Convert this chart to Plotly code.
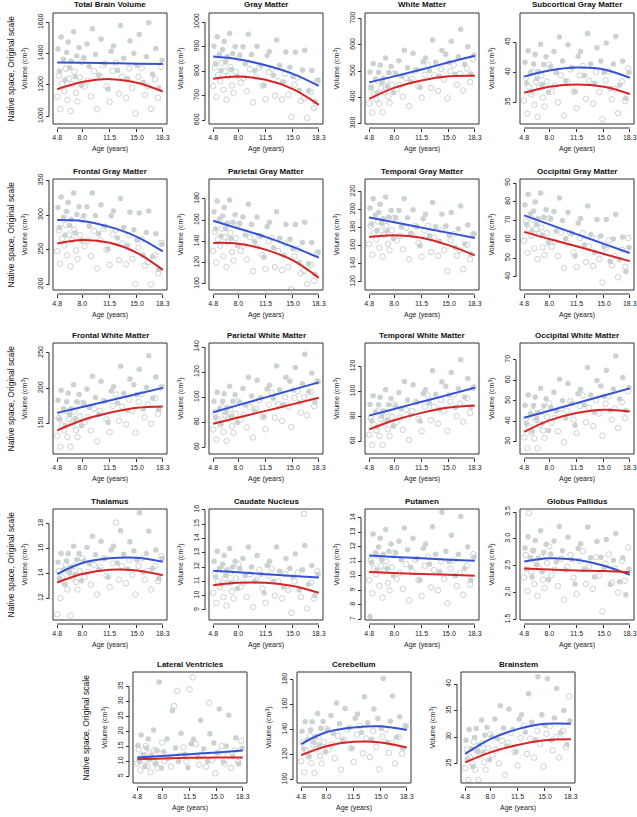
import plotly.graph_objects as go

# ages of the subjects (filled = blue group, open = red group) and fit knots
AGE_F = [4.9, 5.1, 5.3, 5.6, 5.8, 6.0, 6.2, 6.4, 6.6, 6.9, 7.1, 7.3, 7.6, 7.9, 8.2, 8.6, 8.9, 9.3, 9.7, 10.1,
         10.4, 10.9, 11.3, 11.7, 12.0, 12.5, 12.9, 13.3, 13.8, 14.1, 14.6, 15.0, 15.3, 15.8, 16.2, 16.5, 17.0, 17.4, 17.8, 18.2]
AGE_O = [4.8, 5.0, 5.2, 5.4, 5.7, 5.9, 6.1, 6.3, 6.5, 6.7, 7.0, 7.2, 7.4, 7.7, 8.0, 8.3, 8.7, 9.1, 9.5, 9.9,
         10.3, 10.7, 11.1, 11.5, 11.9, 12.3, 12.7, 13.1, 13.6, 14.0, 14.4, 14.8, 15.2, 15.6, 16.0, 16.4, 16.8, 17.3, 17.7, 18.1]
AGE_FIT = [4.8, 8.0, 11.5, 15.0, 18.3]
AGE_TICKS = [4.8, 8.0, 11.5, 15.0, 18.3]
AGE_TICKTEXT = ["4.8", "8.0", "11.5", "15.0", "18.3"]

TBV_F = [1430, 1287, 1507, 1364, 1232, 1408, 1474, 1309, 1353, 1540, 1253, 1385, 1440, 1198, 1374, 1461, 1318, 1560, 1395, 1263,
         1493, 1339, 1174, 1416, 1449, 1294, 1580, 1371, 1239, 1481, 1402, 1325, 1523, 1215, 1380, 1598, 1268, 1433, 1180, 1356]
TBV_O = [1125, 1260, 1044, 1206, 1161, 1303, 1105, 1240, 1033, 1204, 1284, 1149, 1095, 1248, 1347, 1189, 1225, 1126, 1288, 1045,
         1254, 1326, 1191, 1092, 1290, 1342, 1144, 1252, 1117, 1306, 1180, 1018, 1252, 1306, 1135, 1191, 1047, 1236, 1119, 1317]
TBV_BLUE = [1343, 1341, 1339, 1336, 1333]
TBV_RED = [1172, 1218, 1237, 1214, 1158]

GM_F = [902, 830, 940, 869, 803, 888, 921, 838, 860, 954, 806, 872, 900, 778, 866, 900, 829, 950, 868, 802,
        902, 825, 742, 864, 880, 784, 927, 823, 756, 878, 816, 778, 877, 722, 805, 885, 720, 803, 676, 764]
GM_O = [740, 815, 695, 785, 760, 834, 724, 799, 684, 779, 817, 742, 712, 797, 852, 753, 773, 718, 808, 673,
        776, 816, 741, 686, 796, 810, 700, 760, 685, 790, 704, 614, 744, 774, 679, 690, 610, 715, 650, 760]
GM_BLUE = [860, 849, 824, 789, 740]
GM_RED = [769, 778, 765, 727, 663]

WM_F = [497, 438, 529, 470, 416, 496, 523, 455, 473, 550, 441, 495, 518, 418, 491, 540, 481, 580, 513, 459,
        568, 505, 437, 537, 550, 502, 619, 534, 480, 579, 564, 533, 614, 487, 555, 660, 525, 593, 489, 561]
WM_O = [377, 437, 341, 413, 393, 463, 375, 435, 343, 419, 463, 403, 379, 447, 491, 430, 446, 402, 474, 366,
        470, 502, 442, 398, 486, 524, 436, 484, 424, 508, 468, 396, 500, 524, 448, 490, 426, 510, 458, 546]
WM_BLUE = [457, 480, 506, 534, 559]
WM_RED = [394, 436, 464, 480, 482]

SCG_F = [41.7, 38.2, 43.6, 40.0, 36.8, 41.4, 43.0, 39.0, 40.1, 44.7, 38.0, 41.3, 42.6, 36.7, 41.0, 43.5, 40.0, 45.9, 41.9, 38.6,
         44.6, 40.8, 36.8, 42.7, 43.5, 39.5, 46.5, 41.4, 38.2, 44.1, 41.9, 40.0, 44.9, 37.3, 41.4, 46.0, 37.9, 41.9, 35.7, 40.0]
SCG_O = [35.3, 39.1, 33.1, 37.6, 36.3, 40.1, 34.6, 38.4, 32.6, 37.4, 39.5, 35.8, 34.3, 38.5, 41.3, 36.8, 37.8, 35.0, 39.5, 32.8,
         38.5, 40.5, 36.8, 34.0, 39.5, 41.1, 35.6, 38.6, 34.8, 40.1, 36.7, 32.2, 38.7, 40.2, 35.5, 37.2, 33.2, 38.5, 35.2, 40.7]
SCG_BLUE = [39.3, 40.3, 40.8, 40.5, 39.1]
SCG_RED = [36.6, 37.6, 38.0, 37.6, 36.4]

FGM_F = [311, 282, 326, 297, 271, 305, 318, 285, 294, 332, 274, 301, 312, 263, 299, 312, 284, 332, 299, 273,
         315, 284, 251, 299, 306, 267, 324, 282, 256, 304, 279, 264, 303, 242, 275, 306, 240, 273, 222, 258]
FGM_O = [248, 278, 230, 266, 256, 286, 242, 272, 226, 264, 279, 249, 237, 271, 293, 255, 263, 241, 277, 223,
         264, 280, 250, 228, 272, 279, 235, 259, 229, 271, 237, 201, 253, 265, 227, 232, 200, 242, 216, 260]
FGM_BLUE = [293, 291.5, 283, 268.7, 247.6]
FGM_RED = [259, 264, 260, 245.5, 221]

PGM_F = [168, 152, 178, 161, 145, 164, 172, 152, 157, 179, 143, 158, 165, 136, 157, 163, 146, 175, 156, 140,
         163, 145, 125, 154, 158, 134, 168, 143, 127, 156, 142, 133, 156, 120, 139, 158, 119, 139, 109, 130]
PGM_O = [131, 149, 120, 142, 136, 152, 126, 144, 116, 139, 148, 130, 122, 143, 156, 131, 136, 123, 144, 112,
         135, 145, 127, 114, 140, 143, 116, 131, 113, 138, 116, 95, 126, 133, 110, 112, 100, 118, 103, 129]
PGM_BLUE = [159.4, 152.2, 144.3, 134.8, 124.7]
PGM_RED = [138.6, 137.9, 132.3, 122.1, 105.7]

TGM_F = [202, 184, 212, 194, 177, 197, 206, 185, 190, 214, 176, 192, 199, 168, 191, 199, 181, 212, 191, 174,
         200, 181, 160, 190, 195, 171, 208, 181, 165, 195, 182, 172, 197, 158, 179, 204, 162, 183, 151, 173]
TGM_O = [162, 182, 150, 174, 167, 187, 158, 177, 148, 172, 182, 162, 155, 177, 191, 166, 171, 156, 180, 145,
         172, 182, 163, 148, 177, 182, 153, 169, 149, 177, 155, 132, 166, 173, 149, 155, 134, 161, 145, 173]
TGM_BLUE = [191.4, 186.0, 180.1, 174.3, 168.7]
TGM_RED = [169.8, 171.7, 169.0, 160.5, 149.4]

OGM_F = [78.5, 68.1, 84.1, 73.7, 64.1, 75.2, 80.0, 68.0, 71.2, 84.8, 62.2, 71.8, 75.8, 58.2, 71.0, 74.9, 64.5, 82.1, 70.1, 60.5,
         74.3, 63.1, 51.1, 68.7, 71.1, 57.0, 77.8, 62.6, 53.0, 70.6, 61.8, 56.2, 70.6, 48.2, 60.2, 73.3, 49.3, 61.3, 42.9, 55.7]
OGM_O = [59.2, 69.7, 52.9, 65.5, 62.0, 70.5, 55.1, 65.6, 49.5, 62.8, 66.3, 55.8, 51.6, 63.5, 71.2, 56.0, 58.8, 51.1, 63.7, 44.8,
         57.9, 63.5, 53.0, 45.3, 60.7, 63.3, 47.9, 56.3, 45.8, 60.5, 49.6, 37.0, 55.2, 59.4, 46.1, 51.0, 39.8, 54.5, 45.4, 60.8]
OGM_BLUE = [72.8, 68.0, 62.8, 57.6, 52.7]
OGM_RED = [64.0, 60.2, 56.3, 52.2, 48.4]

FWM_F = [183, 156, 197, 171, 147, 181, 193, 163, 171, 205, 157, 181, 191, 147, 179, 199, 173, 217, 187, 163,
         210, 182, 152, 196, 202, 179, 231, 193, 169, 213, 205, 191, 227, 171, 201, 246, 186, 216, 170, 202]
FWM_O = [133, 158, 117, 148, 140, 168, 131, 156, 117, 150, 167, 141, 131, 160, 179, 152, 159, 140, 171, 125,
         168, 182, 156, 138, 175, 191, 154, 174, 149, 184, 168, 137, 181, 192, 159, 177, 150, 186, 164, 201]
FWM_BLUE = [165.2, 173.6, 182.7, 191.9, 200.5]
FWM_RED = [140.5, 154.8, 165.2, 172.4, 174.3]

PWM_F = [96.8, 83.8, 103.8, 90.8, 78.8, 96.7, 102.7, 87.7, 91.7, 108.7, 84.8, 96.8, 101.8, 79.8, 95.8, 106.8, 93.8, 115.8, 100.8, 88.8,
         113.4, 99.4, 84.4, 106.4, 109.4, 98.9, 124.9, 105.9, 93.9, 115.9, 112.6, 105.6, 123.6, 95.6, 110.6, 134.2, 104.2, 119.2, 96.2, 112.2]
PWM_O = [74.2, 87.7, 66.1, 82.3, 77.8, 92.0, 72.2, 85.7, 65.0, 82.1, 90.3, 76.8, 71.4, 86.7, 96.6, 82.1, 85.7, 75.8, 92.0, 67.7,
         90.5, 97.7, 84.2, 74.3, 94.1, 103.5, 83.7, 94.5, 81.0, 99.9, 92.3, 76.1, 99.5, 104.9, 87.8, 99.9, 85.5, 104.4, 92.7, 112.5]
PWM_BLUE = [87.9, 93.6, 99.8, 106.0, 111.8]
PWM_RED = [78.8, 83.7, 89.0, 94.4, 99.5]

TWM_F = [89.5, 76.5, 96.5, 83.5, 71.5, 89.3, 95.3, 80.3, 84.3, 101.3, 77.3, 89.3, 94.3, 72.3, 88.3, 99.1, 86.1, 108.1, 93.1, 81.1,
         105.4, 91.4, 76.4, 98.4, 101.4, 90.7, 116.7, 97.7, 85.7, 107.7, 104.2, 97.2, 115.2, 87.2, 102.2, 125.5, 95.5, 110.5, 87.5, 103.5]
TWM_O = [65.4, 78.9, 57.3, 73.5, 69.0, 84.2, 64.4, 77.9, 57.2, 74.3, 83.3, 69.8, 64.4, 79.7, 89.6, 75.6, 79.2, 69.3, 85.5, 61.2,
         84.4, 91.6, 78.1, 68.2, 88.0, 96.8, 77.0, 87.8, 74.3, 93.2, 84.7, 68.5, 91.9, 97.3, 80.2, 90.2, 75.8, 94.7, 83.0, 102.8]
TWM_BLUE = [80.7, 86.0, 91.8, 97.5, 103.0]
TWM_RED = [69.7, 77.0, 82.9, 87.2, 88.8]

OWM_F = [47.9, 38.8, 52.8, 43.7, 35.3, 47.7, 51.9, 41.4, 44.2, 56.1, 39.1, 47.5, 51.0, 35.6, 46.8, 54.2, 45.1, 60.5, 50.0, 41.6,
         58.4, 48.6, 38.1, 53.5, 55.6, 48.0, 66.2, 52.9, 44.5, 59.9, 57.2, 52.3, 64.9, 45.3, 55.8, 71.9, 50.9, 61.4, 45.3, 56.5]
OWM_O = [32.2, 41.2, 26.8, 37.6, 34.6, 44.9, 31.7, 40.7, 26.9, 38.3, 44.6, 35.6, 32.0, 42.2, 48.8, 39.4, 41.8, 35.2, 46.0, 29.8,
         45.1, 49.9, 40.9, 34.3, 47.5, 52.7, 39.5, 46.7, 37.7, 50.3, 43.8, 33.0, 48.6, 52.2, 40.8, 46.3, 36.7, 49.3, 41.5, 54.7]
OWM_BLUE = [41.8, 45.2, 48.9, 52.6, 56.1]
OWM_RED = [34.9, 40.5, 44.1, 45.7, 44.8]

THA_F = [14.9, 13.6, 15.6, 14.3, 13.1, 15.0, 15.6, 14.1, 14.5, 16.2, 13.9, 15.1, 15.6, 13.4, 15.0, 16.1, 14.8, 17.0, 15.5, 14.3,
         16.6, 15.2, 13.7, 15.9, 16.2, 14.85, 17.45, 15.55, 14.35, 16.55, 15.8, 15.1, 18.9, 14.1, 15.6, 17.4, 14.4, 15.9, 13.6, 15.2]
THA_O = [10.7, 14.2, 12.0, 13.7, 13.2, 14.7, 12.7, 14.1, 10.6, 13.7, 14.6, 13.3, 12.7, 14.2, 15.2, 13.7, 14.1, 13.1, 14.7, 12.3,
         14.5, 15.2, 13.8, 12.9, 14.8, 18.1, 13.5, 14.6, 13.2, 15.1, 13.9, 12.3, 14.6, 15.2, 13.5, 14.2, 12.7, 14.6, 13.4, 15.4]
THA_BLUE = [13.95, 14.84, 15.22, 15.27, 14.95]
THA_RED = [13.27, 13.95, 14.3, 14.24, 13.86]

CAU_F = [12.4, 11.3, 13.1, 11.9, 10.8, 12.2, 12.8, 11.4, 11.8, 13.3, 10.9, 12.0, 12.4, 10.5, 11.9, 12.6, 11.4, 13.4, 12.0, 11.0,
         12.8, 11.5, 10.2, 12.1, 12.4, 11.0, 13.4, 11.7, 10.6, 12.6, 11.9, 11.3, 12.9, 10.4, 11.8, 13.5, 10.8, 12.1, 10.0, 11.5]
CAU_O = [10.2, 11.5, 9.5, 11.0, 10.6, 11.8, 9.9, 11.2, 9.3, 10.9, 11.6, 10.3, 9.8, 11.2, 12.2, 10.6, 10.9, 9.9, 11.5, 9.2,
         11.1, 11.8, 10.5, 9.5, 11.4, 11.9, 10.0, 11.0, 9.8, 11.5, 10.4, 8.8, 11.0, 11.6, 9.9, 15.7, 9.1, 10.9, 9.8, 11.7]
CAU_BLUE = [11.74, 11.63, 11.50, 11.38, 11.26]
CAU_RED = [10.72, 10.9, 10.9, 10.67, 10.2]

PUT_F = [7.2, 10.9, 12.9, 11.6, 10.4, 12.0, 12.6, 11.1, 11.5, 13.2, 10.5, 11.7, 12.2, 10.0, 11.6, 12.4, 11.1, 13.3, 11.8, 10.6,
         12.6, 11.2, 9.7, 11.9, 12.2, 10.8, 13.4, 11.5, 10.3, 14.4, 11.7, 11.0, 12.8, 10.0, 11.5, 14.1, 10.5, 12.0, 9.7, 11.3]
PUT_O = [9.7, 11.1, 8.8, 10.5, 10.1, 11.4, 9.3, 10.7, 8.5, 10.3, 11.0, 9.5, 9.0, 10.6, 11.6, 9.8, 10.2, 9.1, 10.8, 8.3,
         10.3, 11.1, 9.7, 8.6, 10.7, 11.3, 9.2, 10.4, 9.0, 11.0, 9.8, 8.1, 10.5, 11.1, 9.3, 10.2, 8.7, 10.7, 9.4, 11.5]
PUT_BLUE = [11.4, 11.31, 11.22, 11.12, 11.04]
PUT_RED = [10.26, 10.2, 10.13, 10.07, 10.0]

GP_F = [2.83, 2.44, 3.04, 2.65, 2.29, 2.79, 2.97, 2.52, 2.64, 3.15, 2.39, 2.75, 2.90, 2.24, 2.72, 2.96, 2.57, 3.23, 2.78, 2.42,
        3.03, 2.61, 2.16, 2.82, 2.91, 2.44, 3.22, 2.65, 2.29, 2.95, 2.66, 2.45, 2.99, 2.15, 2.60, 3.10, 2.20, 2.65, 1.96, 2.44]
GP_O = [2.28, 2.70, 2.03, 3.48, 2.39, 2.78, 2.16, 2.58, 1.94, 2.47, 2.66, 2.24, 2.08, 2.55, 2.86, 2.32, 2.43, 2.12, 2.63, 1.87,
        2.48, 2.70, 2.28, 1.97, 2.59, 2.77, 2.16, 2.49, 2.07, 2.66, 2.32, 1.65, 2.54, 2.71, 2.18, 2.45, 2.00, 2.59, 2.22, 2.84]
GP_BLUE = [2.58, 2.64, 2.61, 2.50, 2.33]
GP_RED = [2.45, 2.43, 2.41, 2.40, 2.38]

LV_F = [15.3, 9.8, 18.8, 12.3, 8.3, 14.5, 17.5, 10.6, 12.0, 20.5, 9.3, 13.7, 36.5, 7.8, 13.2, 17.5, 11.4, 27.0, 14.5, 9.9,
        19.4, 12.4, 7.9, 15.9, 17.4, 11.5, 23.7, 14.2, 10.0, 19.2, 16.1, 12.8, 27.5, 9.8, 15.1, 25.4, 11.6, 17.9, 9.2, 14.4]
LV_O = [9.3, 14.0, 7.0, 11.9, 10.3, 15.1, 8.4, 12.7, 6.4, 11.3, 13.8, 9.3, 7.8, 12.4, 16.3, 10.1, 11.1, 8.3, 28.5, 33.5,
        11.9, 14.7, 9.9, 34.0, 38.0, 15.8, 8.9, 12.3, 8.2, 29.5, 10.4, 6.0, 13.0, 15.1, 9.2, 12.0, 7.8, 13.7, 9.8, 16.9]
LV_BLUE = [11.26, 11.8, 12.4, 13.0, 13.6]
LV_RED = [10.7, 11.0, 11.2, 11.3, 11.26]

CER_F = [138.8, 124.5, 146.5, 132.2, 119.0, 139.8, 146.4, 129.9, 134.3, 153.0, 127.9, 141.1, 146.6, 122.4, 140.0, 151.4, 137.1, 161.3, 144.8, 131.6,
         156.9, 141.5, 125.0, 149.2, 152.5, 137.8, 166.4, 145.5, 132.3, 156.5, 148.9, 141.2, 181.0, 130.2, 146.7, 166.9, 133.9, 150.4, 125.1, 142.7]
CER_O = [114.7, 129.7, 105.7, 123.7, 118.7, 135.2, 113.2, 128.2, 105.2, 124.2, 133.9, 118.9, 112.9, 129.9, 140.9, 124.1, 128.1, 117.1, 135.1, 108.1,
         132.1, 140.1, 125.1, 114.1, 136.1, 143.0, 121.0, 133.0, 118.0, 139.0, 126.3, 108.3, 134.3, 140.3, 121.3, 128.9, 112.9, 133.9, 120.9, 142.9]
CER_BLUE = [128.5, 137.9, 141.7, 142.7, 139.7]
CER_RED = [119.6, 126.8, 130.3, 129.8, 125.8]

BST_F = [29.4, 25.8, 31.4, 27.8, 24.4, 29.9, 31.6, 27.4, 28.5, 33.2, 27.1, 30.4, 31.8, 25.7, 30.1, 33.4, 29.7, 35.9, 31.7, 28.3,
         35.3, 31.4, 27.2, 33.4, 34.2, 30.9, 38.2, 32.8, 29.5, 41.4, 34.2, 32.2, 41.0, 29.4, 33.6, 39.2, 30.8, 35.0, 28.6, 33.1]
BST_O = [24.1, 27.7, 21.9, 26.2, 25.0, 29.1, 23.8, 27.4, 21.9, 26.4, 28.8, 25.2, 23.8, 27.9, 30.5, 26.6, 27.6, 25.0, 29.3, 22.8,
         28.9, 30.8, 27.2, 24.6, 29.8, 32.1, 26.8, 29.7, 26.1, 31.2, 28.7, 24.4, 30.6, 32.0, 27.5, 30.0, 26.1, 31.2, 28.1, 37.7]
BST_BLUE = [26.8, 29.6, 31.5, 32.5, 32.5]
BST_RED = [25.2, 27.1, 28.5, 29.4, 29.6]

# title, filled, open, blue fit, red fit, y range, y ticks
PANELS = [
    ("Total Brain Volume", TBV_F, TBV_O, TBV_BLUE, TBV_RED, [950, 1660], [1000, 1200, 1400, 1600]),
    ("Gray Matter", GM_F, GM_O, GM_BLUE, GM_RED, [585, 1037], [600, 700, 800, 900, 1000]),
    ("White Matter", WM_F, WM_O, WM_BLUE, WM_RED, [298, 722], [300, 400, 500, 600, 700]),
    ("Subcortical Gray Matter", SCG_F, SCG_O, SCG_BLUE, SCG_RED, [31.4, 49.9], [35, 40, 45]),
    ("Frontal Gray Matter", FGM_F, FGM_O, FGM_BLUE, FGM_RED, [192, 352], [200, 250, 300, 350]),
    ("Parietal Gray Matter", PGM_F, PGM_O, PGM_BLUE, PGM_RED, [94.3, 198.7], [100, 120, 140, 160, 180]),
    ("Temporal Gray Matter", TGM_F, TGM_O, TGM_BLUE, TGM_RED, [111, 234], [120, 140, 160, 180, 200, 220]),
    ("Occipital Gray Matter", OGM_F, OGM_O, OGM_BLUE, OGM_RED, [33, 92.2], [40, 50, 60, 70, 80, 90]),
    ("Frontal White Matter", FWM_F, FWM_O, FWM_BLUE, FWM_RED, [107, 264], [150, 200, 250]),
    ("Parietal White Matter", PWM_F, PWM_O, PWM_BLUE, PWM_RED, [54.6, 143.2], [60, 80, 100, 120, 140]),
    ("Temporal White Matter", TWM_F, TWM_O, TWM_BLUE, TWM_RED, [50, 138.8], [60, 80, 100, 120]),
    ("Occipital White Matter", OWM_F, OWM_O, OWM_BLUE, OWM_RED, [24.1, 78.2], [30, 40, 50, 60, 70]),
    ("Thalamus", THA_F, THA_O, THA_BLUE, THA_RED, [10.24, 19.2], [12, 14, 16, 18]),
    ("Caudate Nucleus", CAU_F, CAU_O, CAU_BLUE, CAU_RED, [8.3, 16.05], [9, 10, 11, 12, 13, 14, 15, 16]),
    ("Putamen", PUT_F, PUT_O, PUT_BLUE, PUT_RED, [6.95, 14.62], [7, 8, 9, 10, 11, 12, 13, 14]),
    ("Globus Pallidus", GP_F, GP_O, GP_BLUE, GP_RED, [1.49, 3.556], [1.5, 2.0, 2.5, 3.0, 3.5]),
    ("Lateral Ventricles", LV_F, LV_O, LV_BLUE, LV_RED, [2.8, 39.8], [5, 10, 15, 20, 25, 30, 35]),
    ("Cerebellum", CER_F, CER_O, CER_BLUE, CER_RED, [97.3, 186.2], [100, 120, 140, 160, 180]),
    ("Brainstem", BST_F, BST_O, BST_BLUE, BST_RED, [21.3, 42.3], [25, 30, 35, 40]),
]

W, H = 637, 817
BOX_W, BOX_H = 114, 111
FONT = "Liberation Sans, Arial, sans-serif"
PT = "#cad3d1"
BLUE = "#3552d6"
RED = "#d72526"
INK = "#333333"

# pixel position (left, top) of each plot box
CELLS = [(l, t) for t in [13, 179, 343, 509] for l in [53, 209, 365, 520]]
CELLS += [(133, 672), (297, 672), (461, 672)]

fig = go.Figure()
annotations = []
shapes = []


def note(text, x, y, size, angle=0, color="#222"):
    annotations.append(dict(text=text, xref="paper", yref="paper", x=x / W, y=1 - y / H,
                            xanchor="center", yanchor="middle", textangle=angle, showarrow=False,
                            font=dict(size=size, color=color, family=FONT)))


for i, (title, filled, hollow, blue, red, yr, yt) in enumerate(PANELS):
    n = i + 1
    xa = "x" if n == 1 else "x%d" % n
    ya = "y" if n == 1 else "y%d" % n
    left, top = CELLS[i]
    bottom = top + BOX_H

    fig.add_trace(go.Scatter(x=AGE_F, y=filled, mode="markers", xaxis=xa, yaxis=ya,
                             marker=dict(size=5.5, color=PT), hoverinfo="skip", showlegend=False))
    fig.add_trace(go.Scatter(x=AGE_O, y=hollow, mode="markers", xaxis=xa, yaxis=ya,
                             marker=dict(size=5.5, color=PT, symbol="circle-open", line=dict(width=1, color=PT)),
                             hoverinfo="skip", showlegend=False))
    for fit, col in [(blue, BLUE), (red, RED)]:
        fig.add_trace(go.Scatter(x=AGE_FIT, y=fit, mode="lines", xaxis=xa, yaxis=ya,
                                 line=dict(color=col, width=2, shape="spline", smoothing=1.0),
                                 hoverinfo="skip", showlegend=False))

    ytext = ["%.1f" % v for v in yt] if n == 16 else [str(v) for v in yt]
    fig.layout["xaxis" + ("" if n == 1 else str(n))] = dict(
        domain=[left / W, (left + BOX_W) / W], range=[4.26, 18.84],
        anchor="free", position=1 - (bottom + 4) / H, automargin=False,
        tickvals=AGE_TICKS, ticktext=AGE_TICKTEXT, ticks="outside", ticklen=3,
        tickcolor=INK, tickwidth=1, showgrid=False, zeroline=False, showline=False,
        tickfont=dict(size=7, color="#222", family=FONT),
    )
    fig.layout["yaxis" + ("" if n == 1 else str(n))] = dict(
        domain=[1 - bottom / H, 1 - top / H], range=yr,
        anchor="free", position=(left - 4) / W, automargin=False,
        tickvals=yt, ticktext=ytext, ticks="outside", ticklen=3, tickangle=-90,
        tickcolor=INK, tickwidth=1, showgrid=False, zeroline=False, showline=False,
        tickfont=dict(size=7, color="#222", family=FONT),
    )

    # R-style box and detached axis lines
    shapes.append(dict(type="rect", xref=xa + " domain", yref=ya + " domain", x0=0, x1=1, y0=0, y1=1,
                       line=dict(color=INK, width=1)))
    shapes.append(dict(type="line", xref=xa, yref=ya + " domain", x0=4.8, x1=18.3,
                       y0=-4 / BOX_H, y1=-4 / BOX_H, line=dict(color=INK, width=1)))
    shapes.append(dict(type="line", xref=xa + " domain", yref=ya, x0=-4 / BOX_W, x1=-4 / BOX_W,
                       y0=yt[0], y1=yt[-1], line=dict(color=INK, width=1)))

    note("<b>%s</b>" % title, left + BOX_W / 2, top - 8, 8, color="#111")
    note("Age (years)", left + BOX_W / 2, bottom + 25, 7)
    note("Volume (cm<sup>3</sup>)", left - 28, top + BOX_H / 2, 7, angle=-90)

for t, x in [(13, 10), (179, 10), (343, 10), (509, 10), (672, 85)]:
    note("Native space, Original scale", x, t + BOX_H / 2, 8.5, angle=-90, color="#111")

fig.update_layout(
    width=W, height=H, margin=dict(l=0, r=0, t=0, b=0, autoexpand=False),
    paper_bgcolor="white", plot_bgcolor="white",
    annotations=annotations, shapes=shapes, showlegend=False,
    font=dict(family=FONT),
)

# drop the browser's default page margin so the figure sits at the top-left corner
fig.write_html("out.html", config={"displayModeBar": False},
               post_script="document.body.style.margin='0';")
